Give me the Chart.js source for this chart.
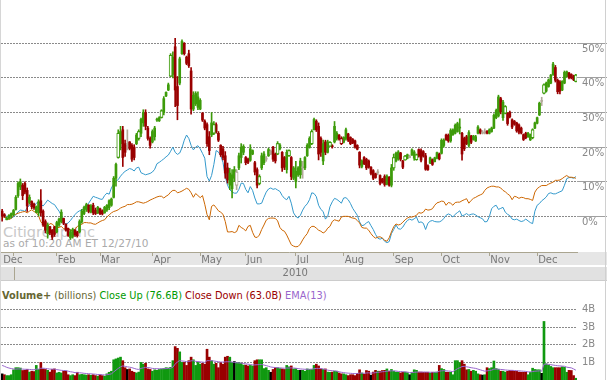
<!DOCTYPE html>
<html>
<head>
<meta charset="utf-8">
<script src="https://cdn.jsdelivr.net/npm/chart.js@4.4.0/dist/chart.umd.js"></script>
<style>
  html, body { margin: 0; padding: 0; background: #fff; }
  #wrap { position: relative; width: 607px; height: 380px; overflow: hidden; font-family: "DejaVu Sans", sans-serif; }
  #wrap div, #wrap canvas { position: absolute; }
  #mark { left: 3px; top: 225px; font-size: 14.5px; line-height: 14.5px; color: #c8c8c8; white-space: nowrap; z-index: 0; }
  #asof { left: 3px; top: 238px; font-size: 10.5px; line-height: 10.5px; color: #aaa; white-space: nowrap; z-index: 0; }
  #volTitle { left: 2px; top: 291px; font-size: 9.8px; line-height: 9.8px; color: #666633; white-space: nowrap; }
  #priceCanvas { left: 0; top: 0; z-index: 1; }
  #volCanvas { left: 0; top: 300px; }
  #edgeL { left: 0; top: 0; width: 1px; height: 380px; background: #d6d6d6; z-index: 2; }
  #edgeR { left: 605px; top: 0; width: 1px; height: 380px; background: #d0d0d0; z-index: 2; }
</style>
</head>
<body>
<div id="wrap">
  <div id="mark">Citigroup Inc</div>
  <div id="asof">as of 10:20 AM ET 12/27/10</div>
  <canvas id="priceCanvas" width="607" height="281"></canvas>
  <div id="volTitle"><b>Volume+</b> (billions) <span style="color:#009900">Close Up (76.6B)</span> <span style="color:#990000">Close Down (63.0B)</span> <span style="color:#9966cc">EMA(13)</span></div>
  <canvas id="volCanvas" width="607" height="80"></canvas>
  <div id="edgeL"></div>
  <div id="edgeR"></div>
</div>
<script>
// trading days from Dec 24 2009 to Dec 27 2010, values in % change
const monthStarts = [0, 5, 24, 43, 66, 87, 107, 129, 150, 172, 193, 214, 235];
const monthLabels = ['Dec', '', 'Feb', 'Mar', 'Apr', 'May', 'Jun', 'Jul', 'Aug', 'Sep', 'Oct', 'Nov', 'Dec'];
const yearLabel = '2010';
const pctTicks = [0, 10, 20, 30, 40, 50];
const volTicks = [1, 2, 3, 4];

const opens = [
  1.5, 0.5, -1, -0.5, 0, 0.5, 2, 6, 8.5, 9,
  9.5, 7.5, 4, 4.3, 3.5, 1.2, 1, 4.5, 1.5, -1.5,
  -5, -3, -4, -3, -4.5, -2.5, -1.5, -0.6, -2.2, -3.5,
  -6.2, -5.8, -4, -4.5, -4.5, -1.5, 0.8, 2, 3.2, 1.3,
  3.2, 1.8, 1, 2.2, 1.6, 1, 1.8, 2.5, 3.2, 5.5,
  11, 17, 21, 25, 21, 21, 21.5, 20.5, 20, 21,
  22.5, 24, 27, 30, 25.5, 22.5, 21.5, 23, 27.8, 27.6,
  28.6, 30, 34.8, 36.5, 40.5, 41, 49, 37.5, 38.5, 47,
  50, 46, 47, 42, 31, 32.5, 31.5, 31, 29.8, 27.5,
  26.5, 23, 23.5, 24, 26.5, 24, 20.5, 19.5, 17.5, 14,
  9, 8, 11, 9, 14, 17, 18.5, 17, 16.5, 16.2,
  18, 15.5, 13.5, 9.5, 14, 15.5, 16.5, 17.5, 18, 20,
  18, 18, 19.5, 18.5, 17, 13.5, 17.5, 17, 11, 10,
  12, 12, 14, 14, 17.5, 20, 21, 25, 27.5, 26,
  22.5, 16, 21.5, 18.5, 20.3, 20.3, 21.5, 22.5, 23.5, 22.5,
  21.4, 22.5, 23.8, 22.8, 22.2, 21.8, 20.5, 18.5, 14.4, 17,
  16.5, 16, 14.2, 13.2, 12.3, 12.6, 11.8, 10.8, 11.5, 9.3,
  11.3, 9, 14, 16, 16.5, 18.3, 16, 16.3, 16.8, 17.3,
  17.7, 16.8, 16.4, 19.3, 19, 18.7, 17.5, 14.6, 15.4, 16.4,
  15.8, 16.8, 18, 18.2, 20.5, 23.5, 23.4, 21.8, 23.6, 24,
  24.5, 25.5, 24, 22.5, 23, 20.5, 23.2, 22.2, 21.8, 24,
  25, 24.3, 24.4, 24.6, 24, 24.5, 25.5, 28.5, 29, 34,
  28.5, 29.8, 29.8, 30, 27.9, 27.5, 27, 26.4, 25.5, 23.6,
  24, 23, 22.1, 22.7, 25.5, 26.9, 29.3, 33.2, 35.6, 36.2,
  37.5, 38.5, 41, 43, 39.3, 38.8, 36.5, 38.5, 40.4, 41.4,
  41, 40.6, 39
];
const highs = [
  2, 0.8, 0, 0.5, 1, 2, 6, 10, 10.8, 9.5,
  10, 8.2, 6.2, 4.5, 3.8, 3, 4.8, 7.7, 1.9, -1,
  -1.9, -2.9, -3.8, -2.9, -1.4, -0.5, 1.9, -0.5, -2.2, -3.4,
  -3.8, -3.4, -3.8, -4.3, -1, 2, 3, 3.8, 3.4, 3.4,
  3.8, 2.4, 2.9, 2.4, 1.9, 2.9, 3.4, 4.8, 5.3, 11.5,
  15.4, 25, 26, 26, 22, 25, 21.6, 21, 20.7, 24,
  25, 28.4, 30.8, 30.8, 26, 23, 25, 26, 28.4, 28.8,
  30.8, 34.6, 36, 38.5, 47, 47.5, 51.4, 40.4, 46, 51,
  50.2, 46.3, 48, 43, 36, 36, 36, 34, 30, 27.9,
  27, 24.5, 30, 27.4, 27, 24.5, 20.7, 20.2, 18.7, 15.4,
  13.9, 13.5, 14.4, 13.5, 18.3, 21, 20.7, 17.3, 16.8, 20.7,
  19.2, 15.9, 14, 12, 18.3, 18.7, 17.3, 19.7, 19.2, 20.2,
  18.3, 21.6, 21, 18.7, 17.3, 19.2, 19.2, 17.3, 14.4, 15.9,
  14.4, 16.8, 15.9, 17.3, 21, 23, 25, 28.4, 27.9, 27,
  23, 22, 22, 22, 21.6, 20.7, 27.4, 24.5, 23.6, 23,
  23, 25.5, 24, 23, 22.5, 22, 20.7, 18.7, 16.3, 17.3,
  16.8, 16.3, 14.4, 13.5, 12.5, 13.5, 12, 11, 12, 12,
  11.5, 15, 18, 18.6, 19, 18.5, 16.2, 17.6, 18, 17.7,
  19.5, 19, 18, 19.5, 19.5, 19, 18.2, 14.9, 17.1, 16.6,
  17.1, 18.6, 18.3, 22.4, 22.4, 23.8, 23.8, 25.3, 25.3, 26.7,
  27.2, 28.2, 24.3, 22.9, 23.4, 24.8, 23.4, 23.4, 23.4, 26.2,
  25.3, 24.8, 25.3, 24.8, 25.3, 25.8, 29.6, 31, 35, 34.4,
  33.5, 32, 30, 30.4, 28.2, 27.7, 27.2, 26.7, 25.8, 23.8,
  24.3, 24.3, 23.8, 25.3, 27.2, 28.7, 33, 34.4, 38.3, 38.8,
  39.7, 41, 44.5, 43.6, 39.7, 39.2, 39.2, 42, 42, 41.6,
  41.2, 40.8, 41
];
const lows = [
  -1.4, -0.3, -1, -0.8, -0.5, 0, 1.8, 5.5, 7.7, 4.8,
  6.5, 1.4, 3.5, 2.2, 2, 1, 0, 0, -2.9, -4.8,
  -6.3, -5.3, -6.7, -5.8, -4.8, -2.9, -1.9, -2.4, -4.3, -5.8,
  -6.7, -6.3, -5.8, -6, -4.8, -2, 0.5, 1.4, 1, 1,
  0.5, 0.5, 0.8, 0.5, 0.4, 0.9, 1.4, 1.9, 2.9, 5.3,
  8.7, 16.8, 19.2, 14.4, 17.3, 19.2, 19.2, 15.9, 16.3, 20.7,
  22, 23, 26, 25, 22, 19.7, 21.2, 22, 27.4, 27.4,
  28.4, 29.3, 34.6, 36.3, 40.4, 40, 31.7, 27.9, 38, 46.8,
  46.6, 43.8, 43, 29.5, 30.5, 32, 30.8, 30.8, 27.4, 25,
  20.2, 17.8, 23, 23.6, 24, 21.6, 17.3, 16.3, 11, 9.6,
  7.7, 5.3, 10, 7.7, 13.5, 15.4, 17.8, 14.9, 15.2, 15.9,
  17.8, 12, 8.2, 9.1, 13.5, 14.9, 15.9, 17.3, 17.8, 15.9,
  15.4, 17.8, 19.2, 13, 13.5, 12.5, 17.3, 10.6, 10.6, 8.2,
  11.5, 11, 11, 13.5, 17.3, 19.7, 20.7, 25, 24.5, 16.3,
  17.3, 14.9, 17.8, 18.3, 20.2, 19.7, 21.2, 22, 22, 20.7,
  21.2, 22, 21.6, 20.7, 21, 19.7, 19.2, 14, 14, 14.9,
  13.5, 13.9, 12, 10.6, 11, 12, 9.1, 9.6, 8.7, 9.1,
  8.7, 8.5, 13.3, 15.7, 16.2, 16, 13.8, 16.2, 16.6, 16.9,
  17.6, 16.2, 16.2, 17.1, 15.7, 17.1, 13.3, 13.3, 15.2, 14.7,
  15.7, 16.6, 16.3, 18, 20, 21.9, 21.4, 21.4, 23.4, 23.8,
  24.3, 23.8, 16.2, 19, 20.7, 20, 21, 22, 21.6, 23.8,
  23.8, 23.8, 23.8, 23.8, 23.8, 24.3, 25.3, 28.2, 28.7, 29.6,
  27.7, 29.6, 26.3, 28.4, 25.3, 26.3, 24.3, 23.8, 23.8, 21.9,
  22.4, 22.8, 21.9, 22.4, 25.3, 26.7, 29.1, 32, 35.4, 35.9,
  37.3, 38.3, 40.7, 38.8, 35.4, 35.4, 36.3, 38.3, 40.2, 39.7,
  39.7, 39.2, 38.8
];
const closes = [
  0, 0, -0.5, 0.3, 0.8, 1.7, 5.5, 9.5, 10, 6,
  7, 3, 5.5, 2.8, 2.5, 2.7, 4.2, 1, -2.5, -4,
  -2.5, -4.8, -6, -5.2, -1.8, -0.8, 1.2, -2, -4, -5.5,
  -4.5, -3.8, -5.3, -5.6, -1.5, 1.5, 2.6, 3.4, 1.4, 3,
  1, 0.8, 2.6, 0.8, 0.7, 2.6, 3.2, 4.5, 5, 11,
  15, 24, 24.5, 17, 18.5, 21, 19.6, 16.5, 17, 23.5,
  24.5, 28, 30, 26, 22.5, 20.5, 24.5, 25.5, 28, 28.5,
  30.5, 34, 35.8, 38, 46.5, 46, 36.5, 32, 45.5, 50.5,
  47, 44.2, 43.5, 31, 35, 35.5, 34.5, 33.5, 27.8, 25.5,
  21, 19, 27, 26.5, 24.5, 22, 17.8, 17, 12.5, 10.5,
  12.5, 12, 13.5, 12.8, 17.5, 20, 20.2, 15.5, 15.6, 19.5,
  19, 12.8, 9, 11.5, 17.5, 18, 16.6, 19.3, 18.8, 16.5,
  16, 21, 20.6, 14, 14.2, 18.5, 19, 11.5, 14, 13,
  14, 16, 14.2, 17, 20.5, 22.5, 24.5, 28, 25, 18,
  18.5, 21, 18.5, 21.5, 21.4, 20.1, 26, 24, 22.3, 21,
  22.8, 25, 22, 21, 21.2, 20, 19.4, 14.8, 16, 15.2,
  14, 14.2, 12.4, 11, 11.2, 12.7, 9.5, 9.9, 9.2, 11.6,
  9, 14, 17, 18.2, 18.6, 16.5, 14.2, 17.4, 17.8, 17.3,
  19.2, 18.6, 17.8, 17.4, 16.2, 17.4, 13.6, 13.5, 16.9, 15,
  16.9, 18.4, 16.6, 22, 22, 22.2, 21.8, 24.8, 25, 26.3,
  26.8, 25.8, 18, 19.5, 21, 24.2, 21.4, 23.2, 23, 25.8,
  24.1, 24.3, 24.4, 24, 25, 25.5, 29.2, 30.6, 34.5, 30.2,
  33, 31.7, 26.8, 28.8, 25.8, 26.6, 24.7, 24.3, 24.1, 22.2,
  22.7, 24, 23.6, 25, 27, 28.5, 32.7, 33.3, 38, 38.5,
  39.4, 40.8, 44, 39.3, 36, 36.2, 39, 41.6, 41.8, 40.1,
  40, 39.5, 40.8
];
// unchanged days drawn grey, and candles drawn hollow
const flatDays = [55, 103, 116, 118, 132, 165, 179, 211, 212, 237];
const hollowDays = [51, 60, 70, 74, 93, 103, 113, 121, 126, 136, 144, 149, 172, 177, 182, 221, 233, 238, 252];

// comparison lines (% change)
const blueLine = [
  0.5, 0.3, 0, -0.3, -0.5, -0.2, 0.5, 1.3, 1.8, 1.7,
  1.4, 2.5, 3.2, 3.8, 3, 3.8, 4.2, 3.5, 3, 3.8,
  4.7, 4.2, 3.7, 3.4, 2.4, 1.5, 0.2, -1.5, -2.3, -1.9,
  -1.2, -0.3, 0.5, 1.2, 1.6, 1.9, 2.3, 3, 3.8, 4.8,
  5.8, 5.5, 5.3, 5, 4.9, 6, 6.7, 6.4, 8.2, 9.4,
  10.2, 10.6, 11.6, 12.4, 13, 13.4, 13.8, 13.6, 13.1, 14,
  14.2, 12.6, 12.3, 12, 12.2, 12.4, 12.8, 13.6, 15.2, 15.6,
  16.1, 16.6, 17.2, 17.7, 18.8, 20, 18.5, 17.9, 18.3, 19.8,
  22, 23.5, 22.5, 20.5, 19.2, 20, 20.4, 19.5, 18.2, 16.8,
  11.5, 10.2, 11.8, 15, 19, 18.6, 17.5, 15.6, 11.5, 9,
  7.7, 7, 6.7, 6.7, 7.8, 9.6, 9.5, 7.8, 6.8, 8.6,
  7.5, 5.3, 3.6, 3.6, 3.8, 5.5, 7, 7.9, 8.2, 7.8,
  8, 7.6, 7.2, 6, 5.2, 4.8, 5.8, 3.8, 1, 0,
  -0.5, 0.3, 1.8, 2.9, 3.6, 4.8, 6.8, 6.6, 5.7, 3.2,
  2, 1.4, -0.8, 0, 2.8, 4.2, 5.2, 4.9, 4.4, 3.8,
  5.3, 5.4, 4.8, 3.7, 2.3, 1.3, 0.3, -1.6, -2.7, -2.5,
  -1.9, -1.5, -2.7, -3.8, -5.2, -6.3, -6.6, -6.3, -7.2, -7.6,
  -7.3, -5, -3.8, -2.5, -3.6, -3.7, -3.1, -2, -1.2, -0.8,
  -1.1, -0.7, -0.2, -1.8, -1.6, -2, -3.8, -2, -1.4, -1.2,
  -1.5, -1.6, -1.6, -1.3, -0.6, 0.3, 0.7, 0.4, -0.2, 0.6,
  1.1, 1.6, 0.1, 0.4, 0.8, 0.3, 0.6, 0.7, 0.4, -0.1,
  -0.4, -0.7, -1.6, -1.5, -0.1, 2.2, 2.9, 3.2, 2, 2.3,
  2.6, 1.2, 0.6, 0.2, -0.8, -1, -0.8, -1.2, -1.5, -1.3,
  -0.8, -1.3, -1.8, -2.1, 1.5, 3.2, 3.7, 4.5, 5, 5.6,
  6.6, 6.8, 6.5, 6.5, 6.8, 7.1, 7.4, 9, 10.9, 11.2,
  11.2, 11, 11.5
];
const orangeLine = [
  0, -0.2, -0.5, -0.9, -0.6, 0.3, 0.6, 0.9, 1.1, 1.3,
  1.4, 1, 1.5, 1.9, 1.4, 1, 0.2, -1.6, -2.3, -2.6,
  -2.9, -2.1, -2.2, -2.9, -3.3, -3.2, -2.9, -3.6, -3.6, -3.4,
  -4.1, -4.1, -3.8, -2.9, -2.6, -2.3, -1.8, -1.8, -1.9, -1.9,
  -2.2, -2.3, -1.9, -1.5, -1.2, -1, -0.2, 0.4, 1, 1.4,
  1.6, 1.9, 2.4, 2.7, 2.9, 3.4, 3.4, 3.5, 3.8, 4.2,
  4.2, 4, 3.8, 4, 4.3, 4.7, 5, 5.3, 5.6, 5.8,
  5.8, 5.3, 5.8, 6.2, 7, 7.5, 7.5, 6.8, 7, 7.3,
  7.7, 8.1, 7.8, 6.8, 5.5, 6.6, 6, 5.4, 6, 3.5,
  0.5, -1, 2.9, 3.3, 2.5, 1.6, 1.2, 0.6, -1.5, -4.5,
  -4.5, -4.4, -4.7, -4.4, -2.6, -3.2, -3.6, -4.2, -2.9, -2.6,
  -4.6, -6, -6.1, -5.4, -3.8, -2.5, -1.1, -0.6, -0.5, -0.5,
  -0.6, -1.3, -3.2, -4, -4.3, -5.4, -6.8, -8.2, -8.6, -8.8,
  -8.7, -8, -6.8, -5.8, -5, -3.5, -2.9, -2.9, -3.4, -4,
  -4.3, -4.8, -4.4, -3.4, -2.9, -1.5, -1, -1.2, -1.4, -0.2,
  0, 0, 0, -0.3, -0.5, -0.6, -1.2, -1.9, -3.2, -3.4,
  -3.4, -4, -5, -5.8, -6.3, -6, -5.9, -6.3, -6.9, -7.2,
  -6.2, -4.5, -3, -2.2, -2.5, -2.3, -1.7, -1, -0.5, -0.2,
  -0.2, 0, 0.3, 1.1, 0.9, 1.2, 2.1, 1.8, 1.9, 2.2,
  3.2, 3.9, 4.1, 4.4, 4.3, 3.2, 4, 3.8, 3.2, 4,
  4.1, 4.1, 4.5, 4.8, 5.1, 3.8, 4.6, 5.2, 5.5, 5.9,
  6.2, 6.5, 7.5, 8.2, 8.5, 8.7, 8.7, 8.5, 8.5, 8.2,
  7.5, 7.1, 6.5, 6, 4.8, 5.8, 5.6, 5.2, 5.5, 5.4,
  5.1, 5.1, 4.9, 4.6, 7, 8, 8.5, 8.9, 8.9, 8.9,
  9.3, 9.6, 9.9, 10.4, 10.4, 10.5, 10.9, 11.4, 11.8, 11.3,
  11.3, 11.2, 11
];

// volume in billions, with its EMA(13)
const volumes = [
  0.35, 0.3, 0.25, 0.25, 0.3, 0.58, 0.7, 0.7, 0.68, 0.54,
  0.55, 0.6, 0.45, 0.5, 0.48, 0.83, 0.6, 1.0, 0.63, 0.6,
  0.55, 0.45, 0.6, 0.63, 0.4, 0.44, 0.4, 0.5, 0.5, 0.3,
  0.25, 0.3, 0.25, 0.44, 0.3, 0.32, 0.3, 0.28, 0.3, 0.27,
  0.3, 0.25, 0.22, 0.3, 0.25, 0.22, 0.35, 0.44, 0.5, 1.15,
  1.2, 1.25, 1.3, 1.1, 0.7, 0.6, 0.63, 0.5, 0.44, 0.4,
  0.45, 1.0, 0.9, 0.95, 0.63, 0.6, 0.5, 0.58, 0.55, 0.6,
  0.63, 0.65, 0.7, 0.68, 0.72, 1.1, 1.9, 1.8, 1.6, 1.0,
  1.0, 0.83, 1.1, 1.3, 1.15, 0.83, 1.0, 0.9, 0.95, 0.9,
  1.75, 1.3, 1.1, 0.9, 0.95, 0.7, 1.0, 0.9, 1.3, 1.35,
  1.3, 1.0, 1.05, 1.0, 1.0, 0.95, 0.85, 0.85, 0.8, 0.83,
  0.8, 1.1, 1.15, 1.15, 1.15, 0.65, 0.7, 0.55, 0.44, 0.6,
  0.7, 0.7, 0.65, 0.63, 0.6, 0.83, 0.75, 0.8, 0.63, 0.65,
  0.55, 0.55, 0.55, 0.5, 0.63, 0.6, 0.6, 0.83, 0.9, 0.8,
  0.63, 0.6, 0.63, 0.45, 0.44, 0.45, 0.5, 0.5, 0.4, 0.35,
  0.35, 0.3, 0.25, 0.3, 0.3, 0.25, 0.38, 0.58, 0.4, 0.33,
  0.54, 0.5, 0.28, 0.45, 0.55, 0.5, 0.5, 0.54, 0.55, 0.63,
  0.5, 0.6, 0.5, 0.45, 0.44, 0.4, 0.44, 0.45, 0.42, 0.3,
  0.44, 0.58, 0.55, 0.45, 0.45, 0.44, 0.44, 0.44, 0.4, 0.44,
  0.44, 0.45, 0.83, 0.65, 0.6, 0.44, 0.44, 0.44, 0.3, 1.1,
  1.1, 1.0, 1.1, 0.9, 0.58, 0.6, 0.5, 0.55, 0.5, 0.35,
  0.3, 0.28, 0.3, 0.7, 0.65, 0.7, 1.08, 0.65, 0.6, 0.5,
  0.5, 0.45, 0.5, 0.55, 0.54, 0.5, 0.5, 0.45, 0.44, 0.44,
  0.44, 0.3, 0.44, 0.67, 0.6, 0.58, 0.58, 0.38, 3.33, 0.92,
  0.85, 0.77, 0.7, 0.7, 0.7, 0.7, 0.75, 0.72, 0.44, 0.55,
  0.54, 0.25, 0.1
];
const emaLine = [
  0.83, 0.78, 0.72, 0.68, 0.65, 0.63, 0.62, 0.63, 0.63, 0.62,
  0.61, 0.61, 0.6, 0.59, 0.58, 0.62, 0.62, 0.67, 0.67, 0.66,
  0.64, 0.62, 0.62, 0.62, 0.59, 0.57, 0.55, 0.54, 0.54, 0.5,
  0.47, 0.45, 0.42, 0.42, 0.41, 0.4, 0.38, 0.37, 0.36, 0.35,
  0.34, 0.33, 0.31, 0.31, 0.3, 0.29, 0.3, 0.32, 0.35, 0.46,
  0.56, 0.66, 0.75, 0.8, 0.78, 0.75, 0.73, 0.7, 0.66, 0.62,
  0.6, 0.66, 0.69, 0.72, 0.71, 0.69, 0.66, 0.65, 0.64, 0.64,
  0.64, 0.64, 0.65, 0.66, 0.67, 0.73, 0.9, 1.03, 1.1, 1.08,
  1.07, 1.04, 1.05, 1.09, 1.1, 1.06, 1.05, 1.03, 1.02, 1.0,
  1.1, 1.1, 1.1, 1.08, 1.06, 1.04, 1.02, 1.02, 1.03, 1.04,
  1.04, 1.02, 1.0, 0.98, 0.97, 0.96, 0.94, 0.92, 0.9, 0.88,
  0.86, 0.86, 0.87, 0.88, 0.88, 0.85, 0.82, 0.78, 0.74, 0.72,
  0.71, 0.7, 0.69, 0.68, 0.67, 0.68, 0.68, 0.69, 0.68, 0.67,
  0.65, 0.63, 0.62, 0.61, 0.61, 0.61, 0.62, 0.64, 0.66, 0.66,
  0.65, 0.63, 0.6, 0.56, 0.54, 0.53, 0.52, 0.5, 0.47, 0.44,
  0.42, 0.4, 0.39, 0.38, 0.37, 0.36, 0.37, 0.39, 0.39, 0.38,
  0.4, 0.41, 0.39, 0.4, 0.42, 0.44, 0.45, 0.47, 0.48, 0.5,
  0.51, 0.52, 0.52, 0.51, 0.49, 0.48, 0.47, 0.46, 0.45, 0.42,
  0.42, 0.44, 0.45, 0.45, 0.45, 0.45, 0.45, 0.45, 0.44, 0.44,
  0.44, 0.44, 0.5, 0.52, 0.53, 0.52, 0.51, 0.5, 0.47, 0.56,
  0.64, 0.7, 0.76, 0.78, 0.75, 0.73, 0.7, 0.68, 0.66, 0.62,
  0.58, 0.54, 0.5, 0.52, 0.54, 0.56, 0.62, 0.62, 0.62, 0.6,
  0.59, 0.57, 0.56, 0.55, 0.55, 0.54, 0.53, 0.52, 0.51, 0.5,
  0.49, 0.46, 0.46, 0.48, 0.5, 0.51, 0.52, 0.5, 0.9, 0.9,
  0.89, 0.87, 0.85, 0.83, 0.81, 0.8, 0.79, 0.78, 0.73, 0.71,
  0.69, 0.63, 0.56
];
const blackVolDays = [0, 55, 102, 118, 131, 162, 179, 211, 237];

const GREEN = '#3d9b0a', RED = '#990000', GREY = '#b2a999';
const VGREEN = '#109910', VRED = '#990000';
const AXIS = '#aaa590';
const DOTS = '#8a8a8a';

Chart.defaults.font.family = '"DejaVu Sans", sans-serif';

const days = closes.map((_, i) => i);
const candleColors = days.map(i => flatDays.includes(i) ? GREY : (closes[i] >= opens[i] ? GREEN : RED));
const volColors = days.map(i => blackVolDays.includes(i) ? '#000' : (closes[i] >= opens[i] ? VGREEN : VRED));

// fixed axis sizes so both panels share the same plot width
const fixY = s => { s.width = 30; s.paddingTop = 0; s.paddingBottom = 0; };

const bandPlugin = {
    id: 'bands',
    beforeDraw(chart) {
        const { ctx, chartArea } = chart;
        const xScale = chart.scales.x;
        const b = chartArea.bottom;
        const jan = xScale.getPixelForValue(monthStarts[1]);
        ctx.save();
        ctx.fillStyle = '#e6e6e6';
        ctx.fillRect(0, b, chart.width, 13);
        ctx.fillStyle = '#e1e1e1';
        ctx.fillRect(0, b + 15, chart.width, 13);
        ctx.fillStyle = '#cccccc';
        ctx.fillRect(0, b + 28, chart.width, 1);
        ctx.fillStyle = AXIS;
        ctx.fillRect(Math.round(jan), b + 15, 1, 13);
        ctx.fillStyle = '#777';
        ctx.font = '10px "DejaVu Sans"';
        ctx.textAlign = 'center';
        ctx.textBaseline = 'middle';
        ctx.fillText(yearLabel, (jan + chartArea.right) / 2, b + 21.5);
        ctx.restore();
    }
};

new Chart(document.getElementById('priceCanvas'), {
    type: 'bar',
    data: {
        datasets: [
            {
                type: 'line', data: days.map(i => ({ x: i, y: blueLine[i] })),
                borderColor: '#3399cc', borderWidth: 1, pointRadius: 0, tension: 0, order: 6
            },
            {
                type: 'line', data: days.map(i => ({ x: i, y: orangeLine[i] })),
                borderColor: '#cc6600', borderWidth: 1, pointRadius: 0, tension: 0, order: 5
            },
            {
                // wicks
                data: days.map(i => ({ x: i, y: [lows[i], highs[i]] })),
                backgroundColor: candleColors, barThickness: 1, grouped: false, order: 3
            },
            {
                // bodies
                data: days.map(i => ({ x: i, y: [opens[i], closes[i]] })),
                backgroundColor: candleColors, barThickness: 2, minBarLength: 1, grouped: false, order: 2
            },
            {
                // hollow bodies
                data: hollowDays.map(i => ({ x: i, y: [opens[i], closes[i]] })),
                backgroundColor: '#fff', borderColor: hollowDays.map(i => candleColors[i]),
                borderWidth: 1, borderSkipped: false, barThickness: 3, grouped: false, order: 1
            }
        ]
    },
    options: {
        responsive: false,
        animation: false,
        events: [],
        layout: { padding: { left: 1, right: 0, top: 0, bottom: 16 } },
        plugins: { legend: { display: false }, tooltip: { enabled: false } },
        scales: {
            x: {
                type: 'linear', min: -0.5, max: 252.5, offset: false,
                afterBuildTicks: s => { s.ticks = monthStarts.map(v => ({ value: v })); },
                afterFit: s => { s.height = 13; s.paddingLeft = 0; s.paddingRight = 0; },
                grid: {
                    offset: false, drawOnChartArea: false, tickLength: 4,
                    tickColor: c => c.index === 0 ? 'rgba(0,0,0,0)' : AXIS
                },
                border: { display: true, color: AXIS, width: 1 },
                ticks: {
                    autoSkip: false, maxRotation: 0, align: 'start', labelOffset: 1, padding: -2,
                    color: '#777', font: { size: 10 },
                    callback: (v, i) => monthLabels[i]
                }
            },
            y: {
                position: 'right', min: -10.3, max: 62.5,
                afterBuildTicks: s => { s.ticks = pctTicks.map(v => ({ value: v })); },
                afterFit: fixY,
                grid: { color: DOTS, tickLength: 30, tickColor: '#a0a0a0' },
                border: { display: false, dash: [2, 1] },
                ticks: {
                    padding: -25, labelOffset: 6, color: '#888', font: { size: 10 },
                    callback: v => v + '%'
                }
            }
        }
    },
    plugins: [bandPlugin]
});

new Chart(document.getElementById('volCanvas'), {
    type: 'bar',
    data: {
        datasets: [
            {
                type: 'line', data: days.map(i => ({ x: i, y: emaLine[i] })),
                borderColor: '#9966cc', borderWidth: 1, pointRadius: 0, tension: 0, order: 0
            },
            {
                data: days.map(i => ({ x: i, y: volumes[i] })),
                backgroundColor: volColors, barThickness: 2, grouped: false, order: 1
            }
        ]
    },
    options: {
        responsive: false,
        animation: false,
        events: [],
        layout: { padding: { left: 1, right: 0, top: 0, bottom: 0 } },
        plugins: { legend: { display: false }, tooltip: { enabled: false } },
        scales: {
            x: { type: 'linear', min: -0.5, max: 252.5, offset: false, grid: { offset: false }, display: false },
            y: {
                position: 'right', min: 0, max: 4.55,
                afterBuildTicks: s => { s.ticks = volTicks.map(v => ({ value: v })); },
                afterFit: fixY,
                grid: { color: DOTS, drawTicks: false },
                border: { display: false, dash: [2, 1] },
                ticks: { padding: 5, color: '#888', font: { size: 10 }, callback: v => v + 'B' }
            }
        }
    }
});
</script>
</body>
</html>
